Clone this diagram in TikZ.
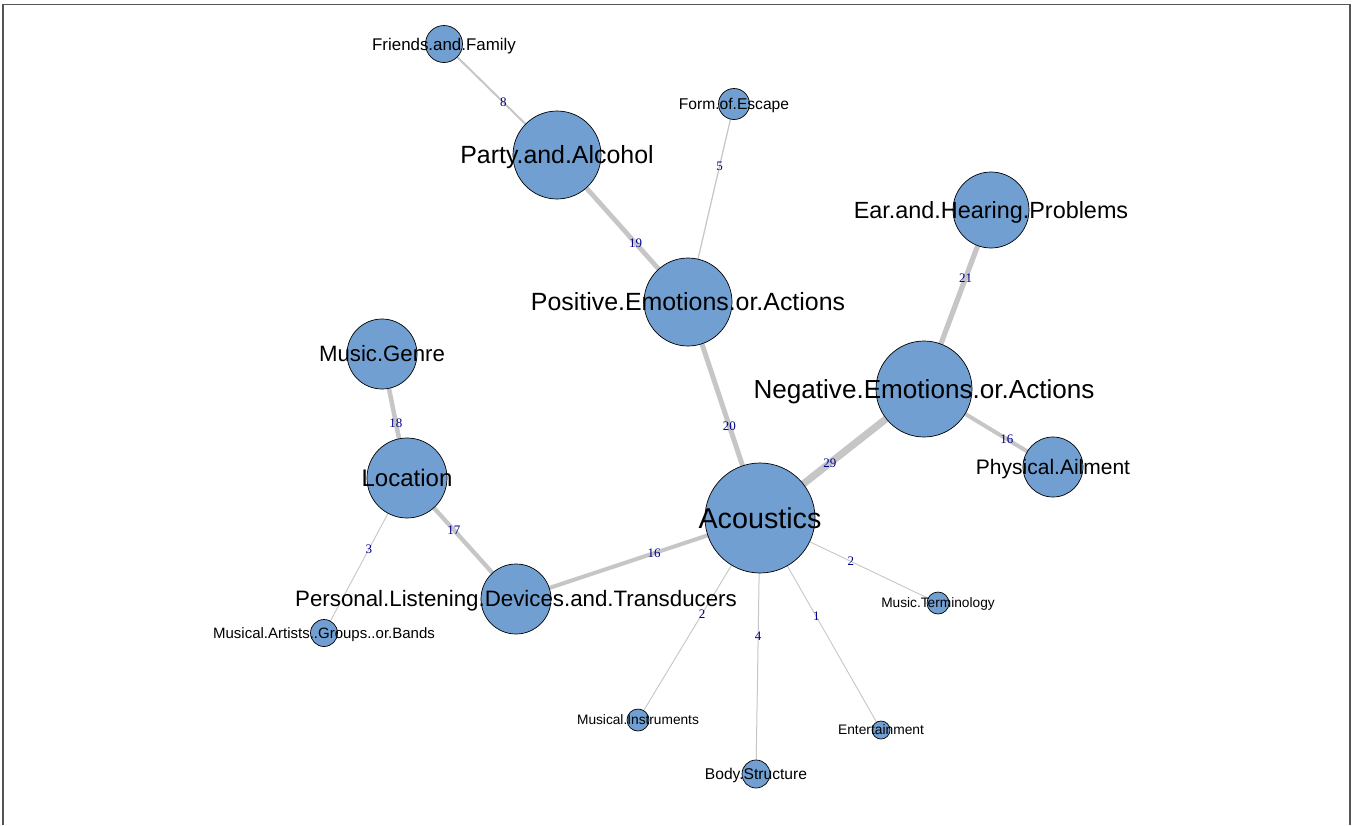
\documentclass[tikz,border=0pt]{standalone}
\usepackage{fontspec}
\setmainfont{Liberation Sans}
\newfontfamily\numfont{Liberation Serif}
\usetikzlibrary{backgrounds}
\definecolor{vfill}{RGB}{113,159,210}
\definecolor{efill}{RGB}{198,198,198}
\definecolor{wlab}{RGB}{0,0,139}
\definecolor{framegray}{RGB}{85,85,85}
\tikzset{
  vtx/.style={circle, draw=black, line width=0.7pt, fill=vfill, inner sep=0pt, minimum size=#1},
  vlab/.style={font=\fontsize{#1}{#1}\selectfont, anchor=base, inner sep=0pt, yshift={-0.358pt*#1}},
  link/.style={draw=efill, line width={max(#1/4,0.9)}},
  wt/.style={font=\numfont\fontsize{13}{13}\selectfont, text=wlab, inner sep=0pt},
}
\begin{document}
\begin{tikzpicture}[x=1pt, y=-1pt]
\useasboundingbox (0,0) rectangle (1352,825);
\draw[framegray, line width=1.5pt] (3,825) -- (3,4.5) -- (1350,4.5) -- (1350,825);

% vertices
\node[vtx=110] (ac)    at (760,518) {};
\node[vtx=96]  (neg)   at (924,389) {};
\node[vtx=88]  (pos)   at (688,302) {};
\node[vtx=88]  (party) at (557,155) {};
\node[vtx=37]  (fam)   at (444,44)  {};
\node[vtx=31]  (esc)   at (734,104) {};
\node[vtx=76]  (ear)   at (991,210) {};
\node[vtx=60]  (phy)   at (1053,467) {};
\node[vtx=70]  (gen)   at (382,354) {};
\node[vtx=80]  (loc)   at (407,478) {};
\node[vtx=70]  (pld)   at (516,599) {};
\node[vtx=27]  (art)   at (324,633) {};
\node[vtx=22]  (term)  at (938,603) {};
\node[vtx=22]  (ins)   at (638,720) {};
\node[vtx=28]  (body)  at (756,774) {};
\node[vtx=18]  (ent)   at (881,730) {};

% weighted edges, drawn beneath the vertices
\begin{scope}[on background layer]
\draw[link=8]  (fam.center)   -- node[wt, pos=0.525] {8}  (party.center);
\draw[link=19] (party.center) -- node[wt, pos=0.6]   {19} (pos.center);
\draw[link=5]  (esc.center)   -- node[wt, pos=0.313] {5}  (pos.center);
\draw[link=21] (ear.center)   -- node[wt, pos=0.38]  {21} (neg.center);
\draw[link=20] (pos.center)   -- node[wt, pos=0.574] {20} (ac.center);
\draw[link=29] (neg.center)   -- node[wt, pos=0.574] {29} (ac.center);
\draw[link=16] (neg.center)   -- node[wt, pos=0.642] {16} (phy.center);
\draw[link=18] (gen.center)   -- node[wt, pos=0.556] {18} (loc.center);
\draw[link=17] (loc.center)   -- node[wt, pos=0.43]  {17} (pld.center);
\draw[link=3]  (loc.center)   -- node[wt, pos=0.46]  {3}  (art.center);
\draw[link=16] (pld.center)   -- node[wt, pos=0.566] {16} (ac.center);
\draw[link=2]  (ac.center)    -- node[wt, pos=0.51]  {2}  (term.center);
\draw[link=2]  (ac.center)    -- node[wt, pos=0.475] {2}  (ins.center);
\draw[link=4]  (ac.center)    -- node[wt, pos=0.46]  {4}  (body.center);
\draw[link=1]  (ac.center)    -- node[wt, pos=0.465] {1}  (ent.center);
\end{scope}

% vertex names
\node[vlab=28.7] (acT)    at (ac)    {Acoustics};
\node[vlab=26.1] (negT)   at (neg)   {Negative.Emotions.or.Actions};
\node[vlab=24.9] (posT)   at (pos)   {Positive.Emotions.or.Actions};
\node[vlab=24.9] (partyT) at (party) {Party.and.Alcohol};
\node[vlab=16.9] (famT)   at (fam)   {Friends.and.Family};
\node[vlab=15.6] (escT)   at (esc)   {Form.of.Escape};
\node[vlab=23.4] (earT)   at (ear)   {Ear.and.Hearing.Problems};
\node[vlab=21]   (phyT)   at (phy)   {Physical.Ailment};
\node[vlab=22.2] (genT)   at (gen)   {Music.Genre};
\node[vlab=24]   (locT)   at (loc)   {Location};
\node[vlab=22.3] (pldT)   at (pld)   {Personal.Listening.Devices.and.Transducers};
\node[vlab=15]   (artT)   at (art)   {Musical.Artists..Groups..or.Bands};
\node[vlab=13.7] (termT)  at (term)  {Music.Terminology};
\node[vlab=13.7] (insT)   at (ins)   {Musical.Instruments};
\node[vlab=15.6] (bodyT)  at (body)  {Body.Structure};
\node[vlab=13.8] (entT)   at (ent)   {Entertainment};
\end{tikzpicture}
\end{document}
